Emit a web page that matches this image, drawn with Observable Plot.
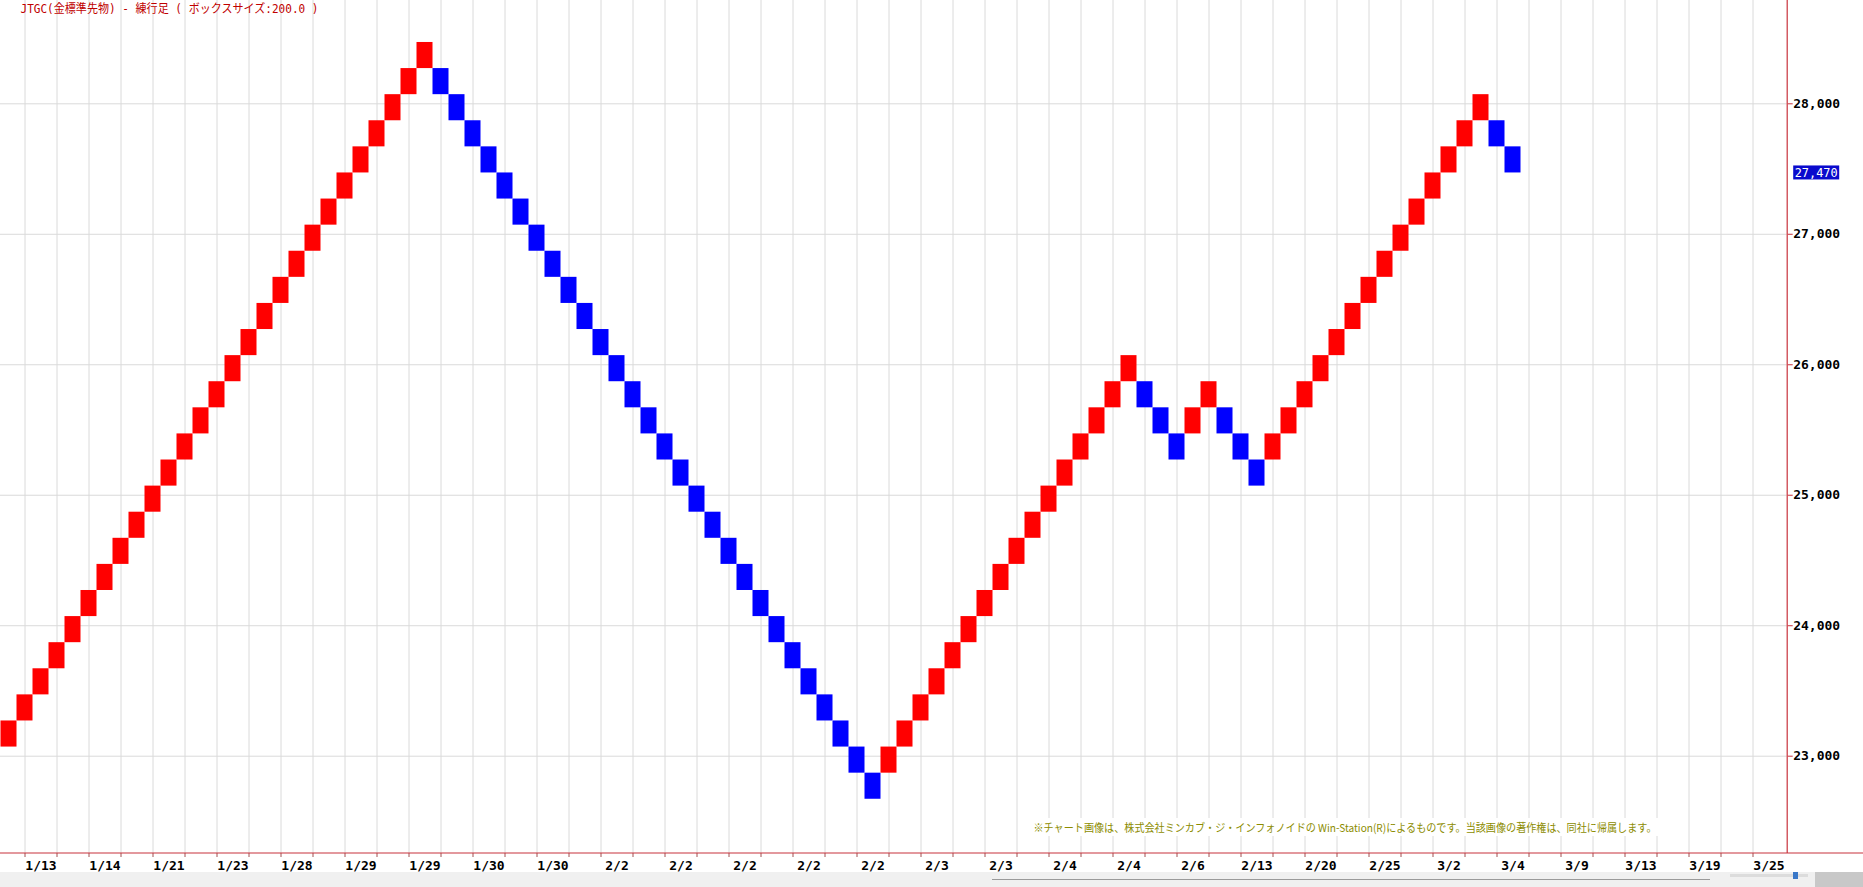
<!DOCTYPE html>
<html><head><meta charset="utf-8">
<script src="https://cdn.jsdelivr.net/npm/d3@7"></script>
<script src="https://cdn.jsdelivr.net/npm/@observablehq/plot@0.6"></script>
<style>
html,body{margin:0;padding:0;background:#fff;overflow:hidden}
#chart svg{display:block}
</style></head><body><div id="chart"></div>
<script>
// ---- data ----
const title = "JTGC(金標準先物) - 練行足 ( ボックスサイズ:200.0 )";
const caption = "※チャート画像は、株式会社ミンカブ・ジ・インフォノイドの Win-Station(R)によるものです。当該画像の著作権は、同社に帰属します。";
const boxSize = 200;
const lastPrice = 27470;

const brickLow = [
  23070, 23270, 23470, 23670, 23870, 24070, 24270, 24470, 24670, 24870,
  25070, 25270, 25470, 25670, 25870, 26070, 26270, 26470, 26670, 26870,
  27070, 27270, 27470, 27670, 27870, 28070, 28270,
  28070, 27870, 27670, 27470, 27270, 27070, 26870, 26670, 26470, 26270,
  26070, 25870, 25670, 25470, 25270, 25070, 24870, 24670, 24470, 24270,
  24070, 23870, 23670, 23470, 23270, 23070, 22870, 22670,
  22870, 23070, 23270, 23470, 23670, 23870, 24070, 24270, 24470, 24670,
  24870, 25070, 25270, 25470, 25670, 25870,
  25670, 25470, 25270,
  25470, 25670,
  25470, 25270, 25070,
  25270, 25470, 25670, 25870, 26070, 26270, 26470, 26670, 26870, 27070,
  27270, 27470, 27670, 27870,
  27670, 27470
];
const brickDir = [
  "U","U","U","U","U","U","U","U","U","U",
  "U","U","U","U","U","U","U","U","U","U",
  "U","U","U","U","U","U","U",
  "D","D","D","D","D","D","D","D","D","D",
  "D","D","D","D","D","D","D","D","D","D",
  "D","D","D","D","D","D","D","D",
  "U","U","U","U","U","U","U","U","U","U",
  "U","U","U","U","U","U",
  "D","D","D",
  "U","U",
  "D","D","D",
  "U","U","U","U","U","U","U","U","U","U",
  "U","U","U","U",
  "D","D"
];
const xLabels = [
  "1/13","1/14","1/21","1/23","1/28","1/29","1/29","1/30","1/30","2/2",
  "2/2","2/2","2/2","2/2","2/3","2/3","2/4","2/4","2/6","2/13",
  "2/20","2/25","3/2","3/4","3/9","3/13","3/19","3/25"
];
const yTicks = [23000, 24000, 25000, 26000, 27000, 28000];

// ---- layout ----
const W = 1863, H = 887;
const marginRight = 76.3, marginBottom = 34;
const plotW = W - marginRight;
const colPx = 16;
const xDomain = [-8.5 / colPx, (plotW - 8.5) / colPx];
const yDomain = [22254.3, 28791.7];
const axisRed = "#c8323c";
const mono = "'DejaVu Sans Mono', 'Liberation Mono', monospace";
const priceText = d3.format(",")(lastPrice);

const bricks = brickLow.map((low, i) => ({i, low, high: low + boxSize, dir: brickDir[i]}));
const labelIdx = xLabels.map((_, j) => 2 + 4 * j);
const gridIdx = d3.range(1, 111, 2);

const svg = Plot.plot({
  width: W, height: H,
  marginLeft: 0, marginRight, marginTop: 0, marginBottom,
  x: {type: "linear", domain: xDomain, label: null},
  y: {type: "linear", domain: yDomain, label: null},
  style: {background: "white"},
  marks: [
    Plot.gridX(gridIdx, {stroke: "#dadada", strokeOpacity: 1}),
    Plot.gridY(yTicks, {stroke: "#dadada", strokeOpacity: 1}),
    Plot.rect(bricks, {
      x1: d => d.i - 0.5, x2: d => d.i + 0.5, y1: "low", y2: "high",
      fill: d => d.dir === "U" ? "#ff0000" : "#0000ff", inset: 0
    }),
    Plot.ruleX([xDomain[1]], {stroke: axisRed, strokeWidth: 1.2}),
    Plot.axisY(yTicks, {
      anchor: "right", tickSize: 5, tickPadding: 1, label: null,
      tickFormat: d3.format(","), fill: "#000", stroke: axisRed,
      fontFamily: mono, fontWeight: "bold", fontSize: 13
    }),
    Plot.axisX(gridIdx, {
      anchor: "bottom", tickSize: 4, tickFormat: () => "", label: null, stroke: "#a05050"
    }),
    Plot.axisX(labelIdx, {
      anchor: "bottom", tickSize: 0, tickPadding: 7, label: null,
      tickFormat: d => xLabels[(d - 2) / 4], fill: "#000",
      fontFamily: mono, fontWeight: "bold", fontSize: 13
    }),
    Plot.text([title], {
      frameAnchor: "top-left", dx: 20, dy: 4, textAnchor: "start", lineAnchor: "top",
      fill: "#c00000", fontSize: 12, fontFamily: "'DejaVu Sans Mono', 'Noto Sans CJK JP'"
    }),
    Plot.text([caption], {
      frameAnchor: "bottom-right", dx: -130.7, dy: -25, textAnchor: "end", lineAnchor: "middle",
      fill: "#8c8c00", fontSize: 11, fontFamily: "'Noto Sans CJK JP'"
    }),
    Plot.text([lastPrice], {
      y: d => d, text: d => d3.format(",")(d), frameAnchor: "right", dx: 7.5,
      textAnchor: "start", lineAnchor: "middle", fill: "white",
      fontFamily: mono, fontSize: 12.5
    })
  ]
});
document.getElementById("chart").append(svg);

// ---- post styling ----
const NS = "http://www.w3.org/2000/svg";
function findText(str) {
  return Array.from(svg.querySelectorAll("text")).find(t => t.textContent === str) || null;
}
function fitText(t, len) {
  if (!t) return;
  t.setAttribute("textLength", len);
  t.setAttribute("lengthAdjust", "spacingAndGlyphs");
}
function backRect(t, fill, padX, padY) {
  if (!t) return;
  const bb = t.getBBox();
  const r = document.createElementNS(NS, "rect");
  r.setAttribute("x", bb.x - padX);
  r.setAttribute("y", bb.y - padY);
  r.setAttribute("width", bb.width + 2 * padX);
  r.setAttribute("height", bb.height + 2 * padY);
  r.setAttribute("fill", fill);
  r.setAttribute("stroke", "none");
  const tr = t.getAttribute("transform");
  if (tr) r.setAttribute("transform", tr);
  t.parentNode.insertBefore(r, t);
}
const tTitle = findText(title);
const tCaption = findText(caption);
const tPrice = findText(priceText);
fitText(tTitle, 298);
fitText(tCaption, 623);
backRect(tCaption, "white", 3, 1);
fitText(tPrice, 43);
backRect(tPrice, "#0a0acd", 1.5, -0.5);

const s = d3.select(svg);
// bottom chrome strip
s.append("rect").attr("x", 0).attr("y", 872).attr("width", W).attr("height", 15).attr("fill", "#f0f0f0");
s.append("line").attr("x1", 992).attr("x2", 1710).attr("y1", 879.5).attr("y2", 879.5).attr("stroke", "#9a9a9a");
s.append("rect").attr("x", 1730).attr("y", 874).attr("width", 78).attr("height", 3).attr("fill", "#dcdcdc");
s.append("rect").attr("x", 1793).attr("y", 872).attr("width", 5).attr("height", 7).attr("fill", "#3a78c8");
s.append("rect").attr("x", 1815).attr("y", 872).attr("width", 48).attr("height", 15).attr("fill", "#c8c8c8");
// bottom axis line across full width
s.append("line").attr("x1", 0).attr("x2", W).attr("y1", 853).attr("y2", 853).attr("stroke", axisRed).attr("stroke-width", 1.2);
</script></body></html>
